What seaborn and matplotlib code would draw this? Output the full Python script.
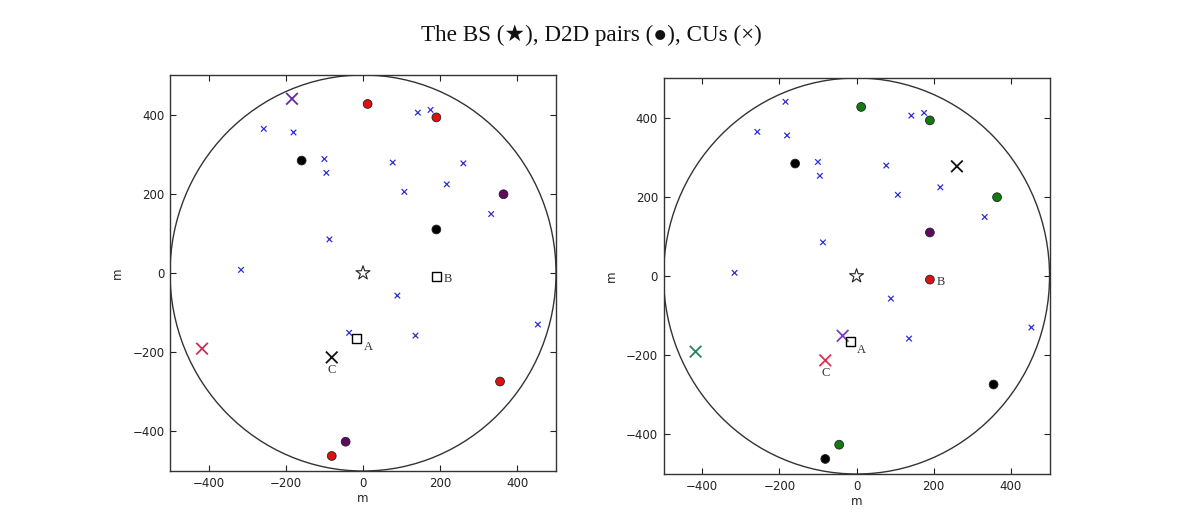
import numpy as np
import pandas as pd
import matplotlib
matplotlib.use("Agg")
import matplotlib.pyplot as plt
import seaborn as sns
from matplotlib.patches import Circle

# ---------------- data ----------------
cell_radius = 500
bs_x = [0]
bs_y = [0]

# cellular users (same positions in both panels)
cu_x = [-257, -180, -100, -95, -87, -316, 142, 175, 77, 260, 107, 217, 332, 89, 136, 453, -36, -184, -417, -81]
cu_y = [364, 355, 288, 253, 85, 8, 405, 412, 279, 277, 205, 224, 149, -57, -158, -130, -151, 440, -191, -213]
cu_group_left = ["cu"] * 17 + ["p1", "p2", "p3"]
cu_group_right = ["cu"] * 9 + ["p3"] + ["cu"] * 6 + ["p4", "cu", "p5", "p6"]

# D2D users (same positions in both panels)
d2d_x = [12, 190, -159, 364, 190, 190, -16, 355, -45, -81]
d2d_y = [427, 393, 284, 199, 110, -9, -165, -274, -426, -462]
d2d_group_left = ["red", "red", "black", "purple", "black", "sq", "sq", "red", "purple", "red"]
d2d_group_right = ["green", "green", "black", "green", "purple", "red", "sq", "black", "green", "black"]

labels_left = {"A": 6, "B": 5, "C": 19}
labels_right = {"A": 6, "B": 5, "C": 19}

x_ticks = [-400, -200, 0, 200, 400]
y_ticks = [-400, -200, 0, 200, 400]

cu_palette_left = {"cu": "#2f2fd8", "p1": "#6a2a9a", "p2": "#c8305a", "p3": "#111111"}
cu_palette_right = {"cu": "#2f2fd8", "p3": "#111111", "p4": "#7a3fc4", "p5": "#2a8060", "p6": "#e03050"}
d2d_palette = {"red": "#dd1111", "black": "#000000", "purple": "#5e0a5e", "green": "#137a13"}

# ---------------- plotting ----------------
sns.set_style("ticks")
plt.rcParams["font.family"] = ["DejaVu Sans"]

fig = plt.figure(figsize=(11.79, 5.24), dpi=100)
ax_l = fig.add_axes([0.1442, 0.1011, 0.3274, 0.7557])
ax_r = fig.add_axes([0.5628, 0.0954, 0.3274, 0.7557])


def draw(ax, cu_group, cu_pal, d2d_group, labels):
    ax.add_patch(Circle((0, 0), cell_radius, fill=False, color="#333333", lw=1.0, zorder=1))
    cu = pd.DataFrame({"x": cu_x, "y": cu_y, "g": cu_group})
    small = cu[cu.g == "cu"]
    big = cu[cu.g != "cu"]
    sns.scatterplot(data=small, x="x", y="y", hue="g", palette=cu_pal, marker="x",
                    s=16, linewidth=0.9, legend=False, ax=ax, zorder=3)
    sns.scatterplot(data=big, x="x", y="y", hue="g", palette=cu_pal, marker="x",
                    s=70, linewidth=1.3, legend=False, ax=ax, zorder=4)
    d = pd.DataFrame({"x": d2d_x, "y": d2d_y, "g": d2d_group})
    dots = d[d.g != "sq"]
    sq = d[d.g == "sq"]
    sns.scatterplot(data=dots, x="x", y="y", hue="g", palette=d2d_palette, marker="o",
                    s=40, edgecolor="#222222", linewidth=0.6, legend=False, ax=ax, zorder=4)
    sns.scatterplot(data=sq, x="x", y="y", marker="s", s=40, facecolor="none",
                    edgecolor="black", linewidth=1.0, legend=False, ax=ax, zorder=4)
    sns.scatterplot(x=bs_x, y=bs_y, marker="*", s=110, facecolor="none",
                    edgecolor="#222222", linewidth=0.8, legend=False, ax=ax, zorder=4)
    # annotations
    ia = labels["A"]
    ax.annotate("A", (d2d_x[ia], d2d_y[ia]), xytext=(5, -6), textcoords="offset points",
                fontsize=9, family="Liberation Serif", color="#333333", va="center", ha="left")
    ib = labels["B"]
    ax.annotate("B", (d2d_x[ib], d2d_y[ib]), xytext=(5, -2), textcoords="offset points",
                fontsize=9, family="Liberation Serif", color="#333333", va="center", ha="left")
    ic = labels["C"]
    ax.annotate("C", (cu_x[ic], cu_y[ic]), xytext=(0, -9), textcoords="offset points",
                fontsize=9, family="Liberation Serif", color="#333333", va="center", ha="center")

    ax.set_xlim(-cell_radius, cell_radius)
    ax.set_ylim(-cell_radius, cell_radius)
    ax.set_xticks(x_ticks)
    ax.set_yticks(y_ticks)
    ax.set_xticklabels([str(t).replace("-", "\u2212") for t in x_ticks])
    ax.set_yticklabels([str(t).replace("-", "\u2212") for t in y_ticks])
    ax.tick_params(direction="in", top=True, right=True, length=4, width=0.8,
                   labelsize=8.5, colors="#222222", pad=4)
    ax.set_xlabel("m", fontsize=8.5, labelpad=2, color="#222222")
    ax.set_ylabel("m", fontsize=8.5, labelpad=6, color="#222222")
    for sp in ax.spines.values():
        sp.set_color("#333333")
        sp.set_linewidth(1.0)


draw(ax_l, cu_group_left, cu_palette_left, d2d_group_left, labels_left)
draw(ax_r, cu_group_right, cu_palette_right, d2d_group_right, labels_right)

fig.text(0.502, 0.932, "The BS (\u2605), D2D pairs (\u25CF), CUs (\u00D7)",
         ha="center", va="center", fontsize=16.7,
         family=["Liberation Serif", "DejaVu Sans"], color="#111111")

fig.savefig("out.png", dpi=100, facecolor="white")
